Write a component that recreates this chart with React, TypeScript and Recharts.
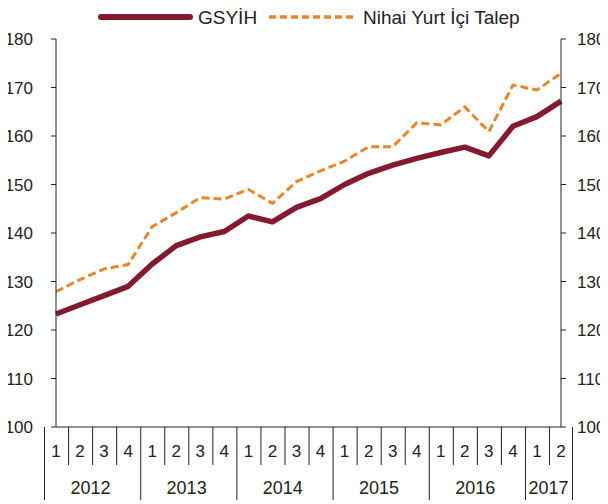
import React from "react";
import { LineChart, Line, XAxis, YAxis } from "recharts";

const yearLabels = ["2012", "2013", "2014", "2015", "2016", "2017"];
const quartersPerYear = [4, 4, 4, 4, 4, 2];
const quarterLabels = ["1", "2", "3", "4"];

const gsyih = [
  123.3, 125.2, 127.1, 129.0, 133.6, 137.4, 139.2, 140.3, 143.5, 142.3, 145.3,
  147.1, 150.0, 152.3, 154.0, 155.4, 156.6, 157.7, 155.9, 162.0, 164.0, 167.2,
];
const talep = [
  127.9, 130.4, 132.6, 133.5, 141.3, 144.2, 147.3, 147.0, 149.0, 146.1, 150.6,
  152.8, 154.8, 157.8, 157.8, 162.7, 162.3, 166.0, 160.9, 170.5, 169.5, 172.9,
];
const yTicks = [100, 110, 120, 130, 140, 150, 160, 170, 180];

const series = [
  { key: "gsyih", name: "GSYİH", color: "#841A30", width: 5.5, dash: undefined as string | undefined },
  { key: "talep", name: "Nihai Yurt İçi Talep", color: "#E8862A", width: 3, dash: "8 4" },
];

type Row = { q: string; year: string; qIdx: number; nq: number; gsyih: number; talep: number };
const data: Row[] = [];
{
  let k = 0;
  yearLabels.forEach((yr, yi) => {
    for (let j = 0; j < quartersPerYear[yi]; j++) {
      data.push({ q: quarterLabels[j], year: yr, qIdx: j, nq: quartersPerYear[yi], gsyih: gsyih[k], talep: talep[k] });
      k++;
    }
  });
}

const W = 608;
const H = 504;
const LEFT_W = 56;
const RIGHT_W = 47;
const TOP = 39;
const XAXIS_H = 77;
const BAND = (W - LEFT_W - RIGHT_W) / data.length;
const FONT = "'Liberation Sans', Arial, sans-serif";
const TXT = "#222";

function QuarterTick(props: any) {
  const { x, y, payload } = props;
  const idx = payload && payload.index != null ? payload.index : props.index;
  const d = data[idx];
  if (!d) return null;
  const left = x - BAND / 2;
  const els: React.ReactNode[] = [];
  els.push(
    <line key="sep" x1={left} x2={left} y1={y} y2={y + (d.qIdx === 0 ? 73 : 38)} stroke="#222" strokeWidth={1} />
  );
  els.push(
    <text key="ql" x={x} y={y + 24} dy="0.36em" textAnchor="middle" fontSize={17} fill={TXT} fontFamily={FONT}>
      {d.q}
    </text>
  );
  if (d.qIdx === 0) {
    els.push(
      <text key="yl" x={left + (d.nq * BAND) / 2} y={y + 61} dy="0.36em" textAnchor="middle" fontSize={18} fill={TXT} fontFamily={FONT}>
        {d.year}
      </text>
    );
  }
  if (idx === data.length - 1) {
    els.push(<line key="end" x1={x + BAND / 2} x2={x + BAND / 2} y1={y} y2={y + 73} stroke="#222" strokeWidth={1} />);
  }
  return <g>{els}</g>;
}

function Legend() {
  return (
    <svg width={W} height={34} style={{ position: "absolute", left: 0, top: 0, pointerEvents: "none" }}>
      <line x1={101} x2={190} y1={17} y2={17} stroke={series[0].color} strokeWidth={6} strokeLinecap="round" />
      <text x={198} y={17} dy="0.36em" fontSize={19} fill={TXT} fontFamily={FONT}>
        {series[0].name}
      </text>
      <line x1={269} x2={353} y1={17} y2={17} stroke={series[1].color} strokeWidth={3.5} strokeDasharray="7 4" />
      <text x={363} y={17} dy="0.36em" fontSize={19} fill={TXT} fontFamily={FONT}>
        {series[1].name}
      </text>
    </svg>
  );
}

export default function App() {
  return (
    <div style={{ position: "relative", width: W, height: H, margin: "-8px 0 0 -8px", fontFamily: FONT }}>
      <LineChart width={W} height={H} data={data} margin={{ top: TOP, right: 0, bottom: 0, left: 0 }}>
        <XAxis
          dataKey="q"
          interval={0}
          height={XAXIS_H}
          tickSize={0}
          tickMargin={0}
          tickLine={false}
          axisLine={{ stroke: "#222" }}
          tick={<QuarterTick />}
        />
        <YAxis
          yAxisId="left"
          domain={[100, 180]}
          ticks={yTicks}
          width={LEFT_W}
          tickSize={5}
          tickMargin={18}
          axisLine={{ stroke: "#222" }}
          tickLine={{ stroke: "#222" }}
          tick={{ fontSize: 17, fill: TXT, fontFamily: FONT }}
          allowDataOverflow
        />
        <YAxis
          yAxisId="right"
          orientation="right"
          domain={[100, 180]}
          ticks={yTicks}
          width={RIGHT_W}
          tickSize={5}
          tickMargin={11}
          axisLine={{ stroke: "#222" }}
          tickLine={{ stroke: "#222" }}
          tick={{ fontSize: 17, fill: TXT, fontFamily: FONT, textAnchor: "start" }}
          allowDataOverflow
        />
        <Line
          yAxisId="left"
          dataKey="gsyih"
          name={series[0].name}
          stroke={series[0].color}
          strokeWidth={series[0].width}
          dot={false}
          activeDot={false}
          strokeLinejoin="round"
          isAnimationActive={false}
        />
        <Line
          yAxisId="right"
          dataKey="talep"
          name={series[1].name}
          stroke={series[1].color}
          strokeWidth={series[1].width}
          strokeDasharray={series[1].dash}
          dot={false}
          activeDot={false}
          isAnimationActive={false}
        />
      </LineChart>
      <Legend />
    </div>
  );
}
